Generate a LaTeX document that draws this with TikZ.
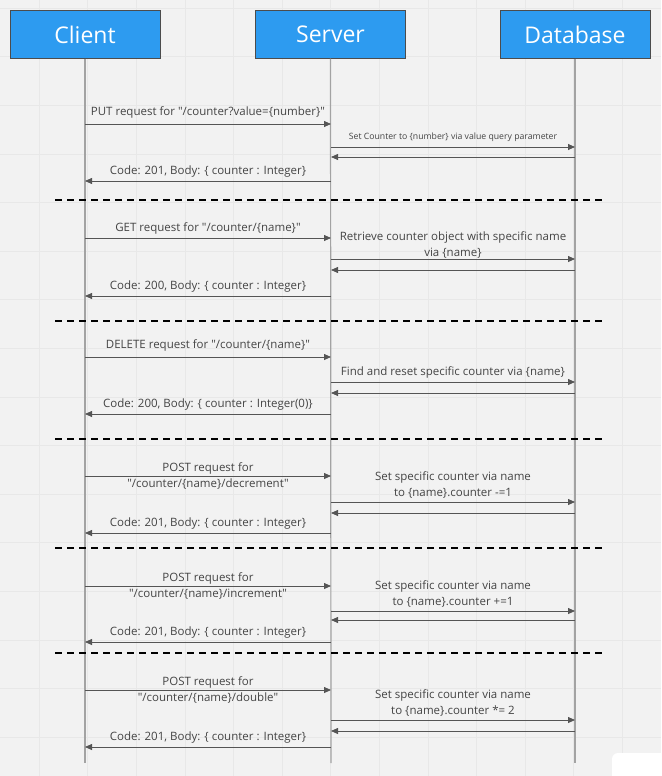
\documentclass[tikz,border=0pt]{standalone}
\usepackage{fontspec}
\setmainfont{Open Sans}[Ligatures=TeXOff]
\usetikzlibrary{arrows.meta}
\definecolor{bgcol}{HTML}{F2F2F2}
\definecolor{gridcol}{HTML}{E8E8E8}
\definecolor{actorblue}{HTML}{2D9BF0}
\definecolor{lifecol}{HTML}{A3A3A3}
\definecolor{msgcol}{HTML}{555555}
\definecolor{labelcol}{HTML}{444444}
\begin{document}
\begin{tikzpicture}[
  x=1pt, y=-1pt,
  actor/.style={rectangle, draw=black!70, fill=actorblue, text=white, minimum width=150pt, minimum height=48pt, font=\fontsize{23}{27}\selectfont},
  life/.style={draw=lifecol, line width=1.2pt},
  msg/.style={draw=msgcol, line width=0.8pt, -{Triangle[length=7pt,width=6pt]}},
  lbl/.style={text=labelcol, font=\fontsize{11.5}{16.5}\selectfont, align=center, inner sep=1pt},
  smalllbl/.style={text=labelcol, font=\fontsize{8.7}{10}\selectfont, inner sep=1pt},
  sep/.style={draw=black, line width=1.2pt, dash pattern=on 7pt off 5pt}
]
% canvas
\useasboundingbox (0,0) rectangle (661,776);
\fill[bgcol] (0,0) rectangle (661,776);
\foreach \g in {0,...,12}
  \draw[gridcol, line width=0.5pt] ({39+48.6*\g},0) -- ({39+48.6*\g},776);
\foreach \g in {0,...,15}
  \draw[gridcol, line width=0.5pt] (0,{8+48.6*\g}) -- (661,{8+48.6*\g});
\fill[white, rounded corners=6pt] (612,753) rectangle (668,783);

% actors
\node[actor] (client) at (85,34.5) {Client};
\node[actor] (server) at (330.5,34.5) {Server};
\node[actor] (database) at (575,34.5) {Database};

\coordinate (cend) at (85,763);
\coordinate (send) at (331,763);
\coordinate (dend) at (575,763);
\draw[life] (client) -- (cend);
\draw[life] (server) -- (send);
\draw[life] (database) -- (dend);

% message rows on the lifelines
\foreach \y in {124,147,157,181,238,259,270,296,357,382,393,414,476,502,513,533,586,611,620,642,690,720,731,747} {
  \coordinate (c\y) at (85,\y);
  \coordinate (s\y) at (331,\y);
  \coordinate (d\y) at (575,\y);
}

% PUT
\draw[msg] (c124) -- node[lbl, above=4pt] {PUT request for "/counter?value=\{number\}"} (s124);
\draw[msg] (s147) -- node[smalllbl, above=4pt] {Set Counter to \{number\} via value query parameter} (d147);
\draw[msg] (d157) -- (s157);
\draw[msg] (s181) -- node[lbl, above=2pt] {Code: 201, Body: \{ counter : Integer\}} (c181);
\coordinate (sepa1) at (55,200); \coordinate (sepb1) at (603,200);
\draw[sep] (sepa1) -- (sepb1);

% GET
\draw[msg] (c238) -- node[lbl, above=2pt] {GET request for "/counter/\{name\}"} (s238);
\draw[msg] (s259) -- node[lbl, above=-1pt] {Retrieve counter object with specific name\\via \{name\}} (d259);
\draw[msg] (d270) -- (s270);
\draw[msg] (s296) -- node[lbl, above=2pt] {Code: 200, Body: \{ counter : Integer\}} (c296);
\coordinate (sepa2) at (55,321); \coordinate (sepb2) at (603,321);
\draw[sep] (sepa2) -- (sepb2);

% DELETE
\draw[msg] (c357) -- node[lbl, above=4pt] {DELETE request for "/counter/\{name\}"} (s357);
\draw[msg] (s382) -- node[lbl, above=2pt] {Find and reset specific counter via \{name\}} (d382);
\draw[msg] (d393) -- (s393);
\draw[msg] (s414) -- node[lbl, above=2pt] {Code: 200, Body: \{ counter : Integer(0)\}} (c414);
\coordinate (sepa3) at (55,439); \coordinate (sepb3) at (603,439);
\draw[sep] (sepa3) -- (sepb3);

% POST decrement
\draw[msg] (c476) -- node[lbl] {POST request for\\"/counter/\{name\}/decrement"} (s476);
\draw[msg] (s502) -- node[lbl, above=2pt] {Set specific counter via name\\to \{name\}.counter -=1} (d502);
\draw[msg] (d513) -- (s513);
\draw[msg] (s533) -- node[lbl, above=2pt] {Code: 201, Body: \{ counter : Integer\}} (c533);
\coordinate (sepa4) at (55,548); \coordinate (sepb4) at (603,548);
\draw[sep] (sepa4) -- (sepb4);

% POST increment
\draw[msg] (c586) -- node[lbl] {POST request for\\"/counter/\{name\}/increment"} (s586);
\draw[msg] (s611) -- node[lbl, above=2pt] {Set specific counter via name\\to \{name\}.counter +=1} (d611);
\draw[msg] (d620) -- (s620);
\draw[msg] (s642) -- node[lbl, above=2pt] {Code: 201, Body: \{ counter : Integer\}} (c642);
\coordinate (sepa5) at (55,653); \coordinate (sepb5) at (603,653);
\draw[sep] (sepa5) -- (sepb5);

% POST double
\draw[msg] (c690) -- node[lbl] {POST request for\\"/counter/\{name\}/double"} (s690);
\draw[msg] (s720) -- node[lbl, above=2pt] {Set specific counter via name\\to \{name\}.counter *= 2} (d720);
\draw[msg] (d731) -- (s731);
\draw[msg] (s747) -- node[lbl, above=2pt] {Code: 201, Body: \{ counter : Integer\}} (c747);
\end{tikzpicture}
\end{document}
